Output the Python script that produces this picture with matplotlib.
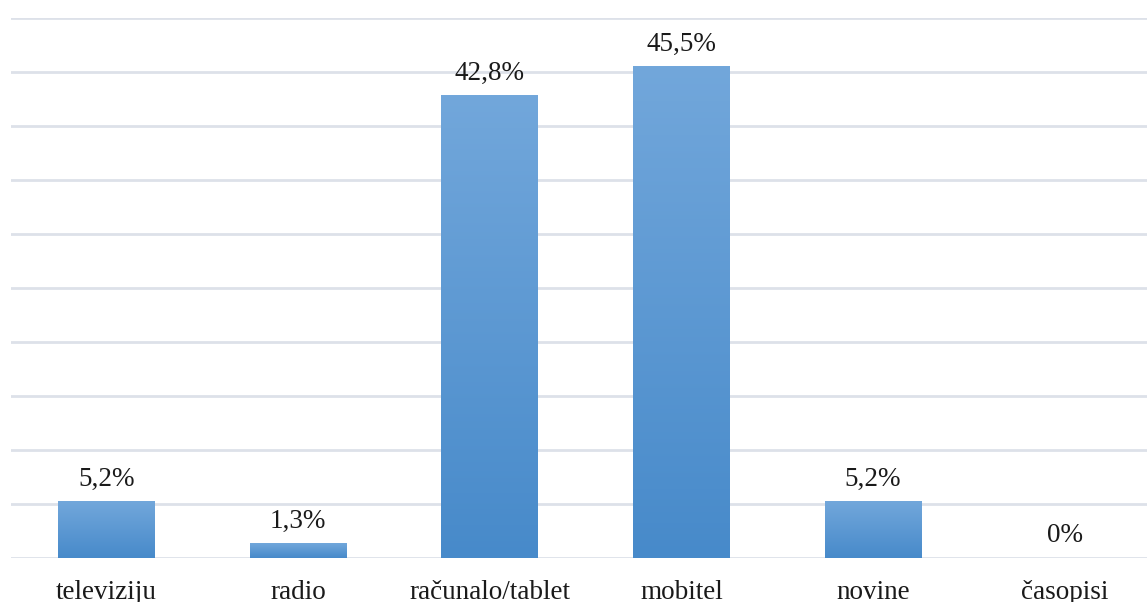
import matplotlib.pyplot as plt
import numpy as np
from matplotlib.colors import LinearSegmentedColormap

plt.rcParams['font.family'] = ['Liberation Serif', 'DejaVu Serif']

categories = ['televiziju', 'radio', 'računalo/tablet', 'mobitel', 'novine', 'časopisi']
values = [5.2, 1.3, 42.8, 45.5, 5.2, 0.0]
labels = ['5,2%', '1,3%', '42,8%', '45,5%', '5,2%', '0%']

fig = plt.figure(figsize=(11.47, 6.02), dpi=100)
# axes runs past the right edge, like the cropped original
ax = fig.add_axes([10.5 / 1147, 44 / 602, 1150 / 1147, 540 / 602])

x = np.arange(len(categories))
width = 0.505
bars = ax.bar(x, values, width=width, color='none', zorder=2)

# vertical gradient in each bar: light on top, darker at bottom
cmap = LinearSegmentedColormap.from_list('bar', ['#478ACA', '#72A7DB'])
grad = np.linspace(0, 1, 256).reshape(-1, 1)
for b in bars:
    h = b.get_height()
    if h <= 0:
        continue
    x0 = b.get_x()
    ax.imshow(grad, extent=[x0, x0 + b.get_width(), 0, h], origin='lower',
              aspect='auto', cmap=cmap, zorder=2)

for xi, v, lab in zip(x, values, labels):
    ax.annotate(lab, (xi, v), xytext=(0, 11.5), textcoords='offset points',
                ha='center', va='baseline', fontsize=19.5, color='#1a1a1a')

ax.set_xlim(-0.5, len(categories) - 0.5)
ax.set_ylim(0, 50)
ax.set_yticks(np.arange(0, 51, 5))
ax.yaxis.grid(True, color='#DDE1E9', linewidth=2, zorder=0)
ax.set_axisbelow(True)
ax.tick_params(axis='y', left=False, labelleft=False)
ax.tick_params(axis='x', length=0, pad=16, labelsize=19.5, labelcolor='#1a1a1a')
ax.set_xticks(x)
ax.set_xticklabels(categories)
for s in ax.spines.values():
    s.set_visible(False)

fig.savefig('out.png', dpi=100)
